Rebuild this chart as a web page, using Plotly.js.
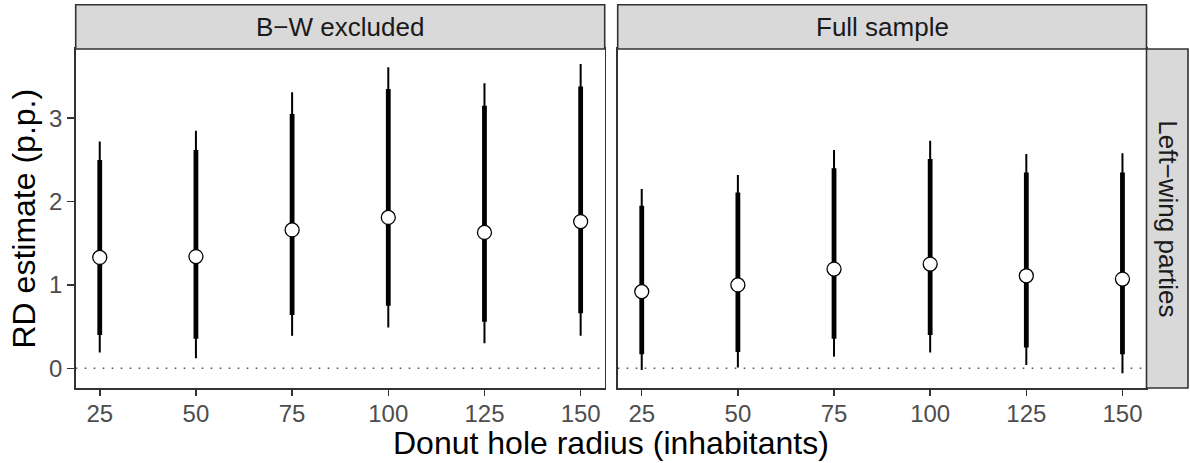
<!DOCTYPE html>
<html>
<head>
<meta charset="utf-8">
<script src="https://cdn.plot.ly/plotly-3.0.1.min.js"></script>
<style>
  html, body { margin: 0; padding: 0; background: #fff; }
  #chart { width: 1190px; height: 463px; }
</style>
</head>
<body>
<div id="chart"></div>
<script>
// Donut-hole robustness: RD estimates by donut radius, two samples
const radius = [25, 50, 75, 100, 125, 150];
const radiusTicks = ['25', '50', '75', '100', '125', '150'];

// B−W excluded
const bwEst    = [1.33, 1.34, 1.66, 1.81, 1.63, 1.76];
const bwLo90   = [0.40, 0.355, 0.64, 0.75, 0.56, 0.66];
const bwHi90   = [2.50, 2.62, 3.05, 3.35, 3.15, 3.38];
const bwLo95   = [0.19, 0.12, 0.39, 0.49, 0.30, 0.39];
const bwHi95   = [2.72, 2.85, 3.31, 3.61, 3.42, 3.65];

// Full sample
const fullEst  = [0.92, 1.00, 1.19, 1.25, 1.11, 1.07];
const fullLo90 = [0.17, 0.195, 0.355, 0.40, 0.25, 0.17];
const fullHi90 = [1.95, 2.11, 2.40, 2.51, 2.35, 2.35];
const fullLo95 = [-0.02, 0.01, 0.14, 0.19, 0.04, -0.06];
const fullHi95 = [2.15, 2.32, 2.62, 2.73, 2.57, 2.58];

const panelTitles = ['B\u2212W excluded', 'Full sample'];
const rowTitle = 'Left\u2212wing parties';

const W = 1190, H = 463;
const px = v => v / W;
const py = v => 1 - v / H;

// vertical segments for interval bars
function segments(lo, hi) {
  const xs = [], ys = [];
  radius.forEach((r, i) => {
    xs.push(r, r, null);
    ys.push(lo[i], hi[i], null);
  });
  return { xs, ys };
}

function panelTraces(est, lo95, hi95, lo90, hi90, xa, ya) {
  const thin = segments(lo95, hi95);
  const thick = segments(lo90, hi90);
  return [
    { type: 'scatter', mode: 'lines', x: thin.xs, y: thin.ys, xaxis: xa, yaxis: ya,
      line: { color: '#000', width: 2 }, hoverinfo: 'skip', showlegend: false },
    { type: 'scatter', mode: 'lines', x: thick.xs, y: thick.ys, xaxis: xa, yaxis: ya,
      line: { color: '#000', width: 4.8 }, hoverinfo: 'skip', showlegend: false },
    { type: 'scatter', mode: 'markers', x: radius, y: est, xaxis: xa, yaxis: ya,
      marker: { size: 14, color: '#fff', line: { color: '#000', width: 1.3 } },
      showlegend: false }
  ];
}

const data = [
  ...panelTraces(bwEst, bwLo95, bwHi95, bwLo90, bwHi90, 'x', 'y'),
  ...panelTraces(fullEst, fullLo95, fullHi95, fullLo90, fullHi90, 'x2', 'y2')
];

const xRange = [18.75, 156.25];
const yRange = [-0.236, 3.83];
const border = '#333333';
const tickFont = { family: 'Liberation Sans, Arial, sans-serif', size: 24, color: '#4d4d4d' };

const L1 = 75.7, R1 = 604.7, L2 = 617.7, R2 = 1146.5;
const T = 49, B = 388, stripTop = 4.7, stripRight = 1188;

function xAxis(l, r, anchor) {
  return {
    domain: [px(l), px(r)], range: xRange, anchor: anchor,
    tickmode: 'array', tickvals: radius, ticktext: radiusTicks,
    ticks: 'outside', ticklen: 6, tickwidth: 1.5, tickcolor: border,
    ticklabelstandoff: -2,
    tickfont: tickFont, showgrid: false, zeroline: false,
    showline: true, mirror: true, linecolor: border, linewidth: 1.6
  };
}
function yAxis(anchor, labels) {
  return {
    domain: [py(B), py(T)], range: yRange, anchor: anchor,
    tickmode: 'array', tickvals: [0, 1, 2, 3], ticktext: ['0', '1', '2', '3'],
    ticks: labels ? 'outside' : '', ticklen: 7, tickwidth: 1.5, tickcolor: border,
    showticklabels: labels, tickfont: tickFont, showgrid: false, zeroline: false,
    showline: true, mirror: true, linecolor: border, linewidth: 1.6
  };
}

const stripFill = '#d9d9d9';
const zeroLine = { color: '#555', width: 1.6, dash: '1.6px,7.4px' };
const shapes = [
  // dotted zero reference in each panel
  { type: 'line', xref: 'x domain', yref: 'y', x0: 0, x1: 1, y0: 0, y1: 0,
    line: zeroLine, layer: 'below' },
  { type: 'line', xref: 'x2 domain', yref: 'y2', x0: 0, x1: 1, y0: 0, y1: 0,
    line: zeroLine, layer: 'below' },
  // facet strips
  { type: 'rect', xref: 'paper', yref: 'paper', x0: px(L1), x1: px(R1), y0: py(T), y1: py(stripTop),
    fillcolor: stripFill, line: { color: border, width: 1.6 } },
  { type: 'rect', xref: 'paper', yref: 'paper', x0: px(L2), x1: px(R2), y0: py(T), y1: py(stripTop),
    fillcolor: stripFill, line: { color: border, width: 1.6 } },
  { type: 'rect', xref: 'paper', yref: 'paper', x0: px(R2), x1: px(stripRight), y0: py(B), y1: py(T),
    fillcolor: stripFill, line: { color: border, width: 1.6 } }
];

const stripFont = { family: 'Liberation Sans, Arial, sans-serif', size: 26, color: '#1a1a1a' };
const titleFont = { family: 'Liberation Sans, Arial, sans-serif', size: 32, color: '#000' };

const annotations = [
  { text: panelTitles[0], xref: 'paper', yref: 'paper', x: px((L1 + R1) / 2), y: py((stripTop + T) / 2),
    showarrow: false, font: stripFont, xanchor: 'center', yanchor: 'middle' },
  { text: panelTitles[1], xref: 'paper', yref: 'paper', x: px((L2 + R2) / 2), y: py((stripTop + T) / 2),
    showarrow: false, font: stripFont, xanchor: 'center', yanchor: 'middle' },
  { text: rowTitle, xref: 'paper', yref: 'paper', x: px((R2 + stripRight) / 2), y: py((T + B) / 2),
    showarrow: false, font: stripFont, textangle: 90, xanchor: 'center', yanchor: 'middle' },
  { text: 'RD estimate (p.p.)', xref: 'paper', yref: 'paper', x: px(24), y: py((T + B) / 2),
    showarrow: false, font: titleFont, textangle: -90, xanchor: 'center', yanchor: 'middle' },
  { text: 'Donut hole radius (inhabitants)', xref: 'paper', yref: 'paper', x: px(611), y: py(443),
    showarrow: false, font: titleFont, xanchor: 'center', yanchor: 'middle' }
];

const layout = {
  width: W, height: H,
  margin: { l: 0, r: 0, t: 0, b: 0 },
  paper_bgcolor: '#fff', plot_bgcolor: '#fff',
  font: { family: 'Liberation Sans, Arial, sans-serif' },
  xaxis: xAxis(L1, R1, 'y'),
  yaxis: yAxis('x', true),
  xaxis2: xAxis(L2, R2, 'y2'),
  yaxis2: yAxis('x2', false),
  shapes: shapes,
  annotations: annotations,
  showlegend: false
};

Plotly.newPlot('chart', data, layout, { displayModeBar: false, staticPlot: true });
</script>
</body>
</html>
